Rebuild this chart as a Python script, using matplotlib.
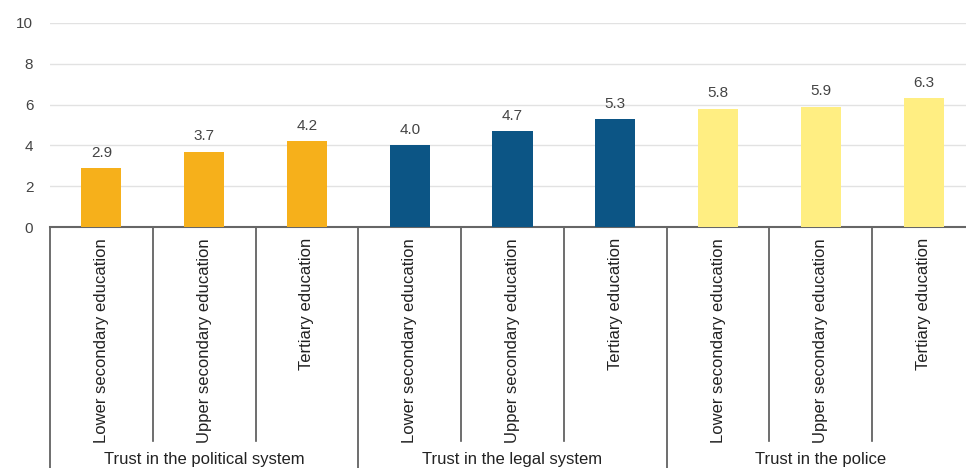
import matplotlib.pyplot as plt
import matplotlib.transforms as mtransforms

plt.rcParams['font.family'] = ['Liberation Sans', 'DejaVu Sans']

groups = ['Trust in the political system', 'Trust in the legal system', 'Trust in the police']
levels = ['Lower secondary education', 'Upper secondary education', 'Tertiary education']
political = [2.9, 3.7, 4.2]
legal = [4.0, 4.7, 5.3]
police = [5.8, 5.9, 6.3]
colors = ['#F6B01B', '#0C5585', '#FFEE82']

fig = plt.figure(figsize=(9.66, 4.68), dpi=100)
ax = fig.add_axes([50/966, 241/468, 925/966, 204/468])

vals = political + legal + police
cols = [colors[0]]*3 + [colors[1]]*3 + [colors[2]]*3
x = list(range(len(vals)))
bars = ax.bar(x, vals, width=0.39, color=cols, zorder=3)

for xi, v in zip(x, vals):
    ax.annotate('%.1f' % v, (xi, v), xytext=(0, 6), textcoords='offset points',
                ha='center', va='bottom', fontsize=11, color='#444444')

ax.set_xlim(-0.5, 8.5)
ax.set_ylim(0, 10)
ax.set_yticks([0, 2, 4, 6, 8, 10])
ax.yaxis.grid(True, color='#e2e2e2', lw=1, zorder=0)
ax.tick_params(axis='y', length=0, pad=12, labelsize=11, labelcolor='#444444')

ax.set_xticks(x)
ax.set_xticklabels(levels*3, rotation=90, fontsize=12, color='#222222')
ax.tick_params(axis='x', length=0, pad=8)

for s in ['top', 'right', 'left']:
    ax.spines[s].set_visible(False)
ax.spines['bottom'].set_color('#666666')
ax.spines['bottom'].set_linewidth(1.5)

# separators under the axis
trans = mtransforms.blended_transform_factory(ax.transData, ax.transAxes)
for k in range(10):
    xs = k - 0.5
    if k % 3 == 0:
        y0 = -1.25
    else:
        y0 = -1.049
    ax.plot([xs, xs], [0, y0], color='#555555', lw=1.2, transform=trans, clip_on=False)

for i, g in enumerate(groups):
    ax.text(3*i + 1, -1.142, g, transform=trans, ha='center', va='center',
            fontsize=12, color='#222222')

fig.savefig('out.png', dpi=100)
